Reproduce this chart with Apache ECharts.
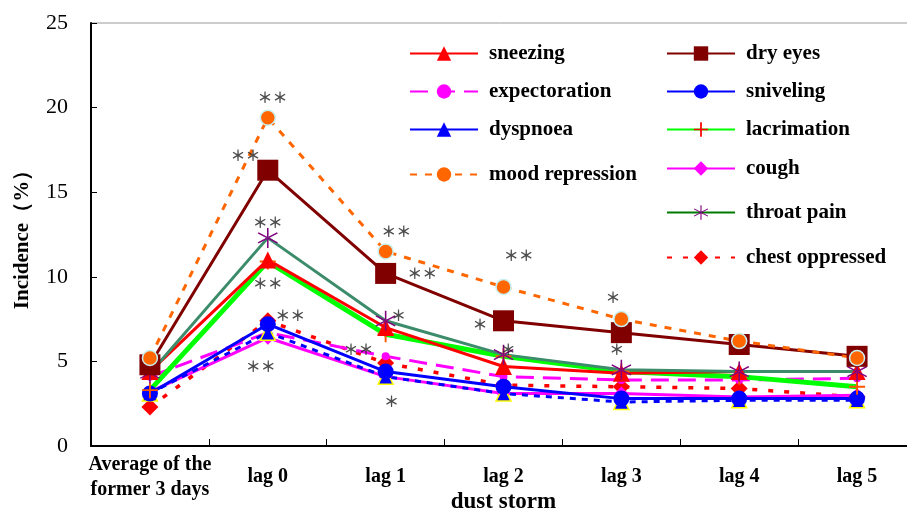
<!DOCTYPE html>
<html>
<head>
<meta charset="utf-8">
<title>Incidence of symptoms after dust storm</title>
<script src="https://cdn.jsdelivr.net/npm/echarts@6/dist/echarts.min.js"></script>
<style>
  html, body { margin: 0; padding: 0; background: #fff; }
  #chart { width: 907px; height: 517px; }
</style>
</head>
<body>
<div id="chart"></div>
<script>
// categories on the x axis
const categories = ['Average of the\nformer 3 days', 'lag 0', 'lag 1', 'lag 2', 'lag 3', 'lag 4', 'lag 5'];
const yTicks = [0, 5, 10, 15, 20, 25];

// incidence (%) per symptom
const sneezing        = [4.4, 11.0, 7.0, 4.7, 4.3, 4.4, 4.4];
const dryEyes         = [4.8, 16.3, 10.2, 7.4, 6.7, 6.0, 5.3];
const expectoration   = [4.1, 6.7, 5.3, 4.1, 3.9, 3.9, 4.0];
const sniveling       = [3.1, 7.2, 4.4, 3.5, 2.8, 2.8, 2.8];
const dyspnoea        = [3.1, 6.7, 4.1, 3.1, 2.6, 2.7, 2.7];
const lacrimation     = [3.3, 10.9, 6.6, 5.3, 4.4, 4.1, 3.5];
const cough           = [3.2, 6.4, 4.1, 3.1, 3.1, 2.9, 3.0];
const throatPain      = [4.3, 12.3, 7.4, 5.4, 4.5, 4.4, 4.4];
const moodRepression  = [5.2, 19.4, 11.5, 9.4, 7.5, 6.2, 5.2];
const chestOppressed  = [2.3, 7.4, 4.9, 3.6, 3.5, 3.4, 2.9];

// significance marks: [x position (category index), incidence, text]
const stars = [
  [1.04, 20.6, '＊＊'], [0.81, 17.2, '＊＊'], [1.0, 13.2, '＊＊'], [1.0, 9.6, '＊＊'],
  [1.19, 7.7, '＊＊'], [0.94, 4.7, '＊＊'], [2.09, 12.7, '＊＊'], [2.31, 10.2, '＊＊'],
  [2.11, 7.7, '＊'], [1.77, 5.7, '＊＊'], [2.05, 2.65, '＊'], [3.13, 11.3, '＊＊'],
  [2.8, 7.2, '＊'], [3.04, 5.7, '＊'], [3.93, 8.8, '＊'], [3.96, 5.7, '＊']
];

const plusPath = 'path://M4.4,0h1.2v10h-1.2z M0,4.4h10v1.2h-10z';
const asteriskPath = 'path://M9.3,0h1.4v20h-1.4z M1.69,4.4L19.01,14.4L18.31,15.6L0.99,5.6z M1.69,15.6L19.01,5.6L18.31,4.4L0.99,14.4z';

const serif = 'Liberation Serif';

// legend placement: [name, left, centre y]
const legendItems = [
  ['sneezing', 409, 53], ['expectoration', 409, 91], ['dyspnoea', 409, 129], ['mood repression', 409, 174],
  ['dry eyes', 666, 53], ['sniveling', 666, 91], ['lacrimation', 666, 129], ['cough', 666, 168],
  ['throat pain', 666, 212], ['chest oppressed', 666, 257]
];

function line(name, data, color, opts) {
  return Object.assign({
    name: name,
    type: 'line',
    data: data,
    symbolSize: 14,
    lineStyle: { color: color, width: 3 },
    itemStyle: { color: color },
    z: 2
  }, opts);
}

const chart = echarts.init(document.getElementById('chart'));

const series = [
  line('chest oppressed', chestOppressed, '#ff0000', {
    symbol: 'diamond', symbolSize: 17,
    lineStyle: { color: '#ff0000', width: 3.5, type: [5, 11] }
  }),
  line('expectoration', expectoration, '#ff00ff', {
    symbol: 'circle', symbolSize: 8,
    lineStyle: { color: '#ff00ff', width: 3, type: [18, 9] }
  }),
  line('cough', cough, '#ff00ff', { symbol: 'diamond', symbolSize: 14 }),
  line('dyspnoea', dyspnoea, '#0000ff', {
    symbol: 'triangle', symbolSize: 15,
    lineStyle: { color: '#0000ff', width: 3, type: [6, 6] },
    itemStyle: { color: '#0000ff', borderColor: '#ffff00', borderWidth: 1.5 }
  }),
  line('sniveling', sniveling, '#0000ff', { symbol: 'circle', symbolSize: 16 }),
  line('lacrimation', lacrimation, '#00ff00', {
    symbol: plusPath, symbolSize: 16,
    lineStyle: { color: '#00ff00', width: 5 },
    itemStyle: { color: '#ff5500' }
  }),
  line('sneezing', sneezing, '#ff0000', { symbol: 'triangle', symbolSize: 17 }),
  line('throat pain', throatPain, '#3c8c6c', {
    symbol: asteriskPath, symbolSize: 20,
    itemStyle: { color: '#800080' }
  }),
  line('dry eyes', dryEyes, '#800000', { symbol: 'rect', symbolSize: 21 }),
  line('mood repression', moodRepression, '#ff6600', {
    symbol: 'circle', symbolSize: 15,
    lineStyle: { color: '#ff6600', width: 3, type: [7, 8] },
    itemStyle: { color: '#ff6600', borderColor: '#c8f0f0', borderWidth: 1.5 }
  }),
  {
    type: 'scatter',
    xAxisIndex: 1,
    data: stars,
    symbolSize: 0,
    silent: true,
    z: 5,
    label: {
      show: true,
      position: 'inside',
      formatter: p => p.data[2],
      color: '#222',
      fontSize: 15,
      fontWeight: 'bold',
      fontFamily: 'Noto Sans CJK JP'
    }
  }
];

// legend items that should look different from the plotted line
const legendOverride = {
  'dyspnoea': { lineStyle: { type: 'solid' }, itemStyle: { borderWidth: 0 } },
  'lacrimation': { itemStyle: { color: '#ff0000' } },
  'throat pain': { lineStyle: { color: '#007a00' } },
  'mood repression': { itemStyle: { borderWidth: 0 } }
};

const legends = legendItems.map(([name, left, cy]) => ({
  data: [Object.assign({ name: name }, legendOverride[name] || {})],
  left: left,
  top: cy - 10,
  padding: 0,
  itemWidth: 68,
  itemHeight: 18,
  selectedMode: false,
  textStyle: {
    fontFamily: serif,
    fontWeight: 'bold',
    fontSize: 21,
    color: '#000',
    padding: [0, 0, 0, 6]
  }
}));

chart.setOption({
  backgroundColor: '#fff',
  animation: false,
  grid: {
    left: 91, top: 23, right: -9, bottom: 71,
    show: true, borderColor: '#999', borderWidth: 1,
    outerBoundsMode: 'none'
  },
  legend: legends,
  xAxis: [{
    type: 'category',
    data: categories,
    boundaryGap: true,
    name: 'dust storm',
    nameLocation: 'middle',
    nameGap: 45,
    nameMoveOverlap: false,
    nameTextStyle: { fontFamily: serif, fontWeight: 'bold', fontSize: 23, color: '#000' },
    axisLine: { lineStyle: { color: '#000', width: 2 } },
    axisTick: { show: true, inside: true, length: 7, interval: 0, lineStyle: { color: '#000', width: 1 } },
    axisLabel: {
      interval: 0,
      hideOverlap: false,
      margin: 31,
      verticalAlign: 'middle',
      lineHeight: 25,
      fontFamily: serif,
      fontWeight: 'bold',
      fontSize: 20,
      color: '#000'
    },
    splitLine: { show: false }
  }, {
    type: 'value',
    min: -0.5,
    max: 6.5,
    show: false
  }],
  yAxis: {
    type: 'value',
    min: yTicks[0],
    max: yTicks[yTicks.length - 1],
    interval: 5,
    name: 'Incidence（%）',
    nameLocation: 'middle',
    nameGap: 58,
    nameRotate: 90,
    nameMoveOverlap: false,
    nameTextStyle: { fontFamily: serif, fontWeight: 'bold', fontSize: 21, color: '#000' },
    axisLine: { show: true, onZero: false, lineStyle: { color: '#000', width: 2 } },
    axisTick: { show: true, inside: true, length: 6, lineStyle: { color: '#000' } },
    axisLabel: { margin: 23, fontFamily: serif, fontSize: 22, color: '#000' },
    splitLine: { show: false }
  },
  series: series
});
</script>
</body>
</html>
